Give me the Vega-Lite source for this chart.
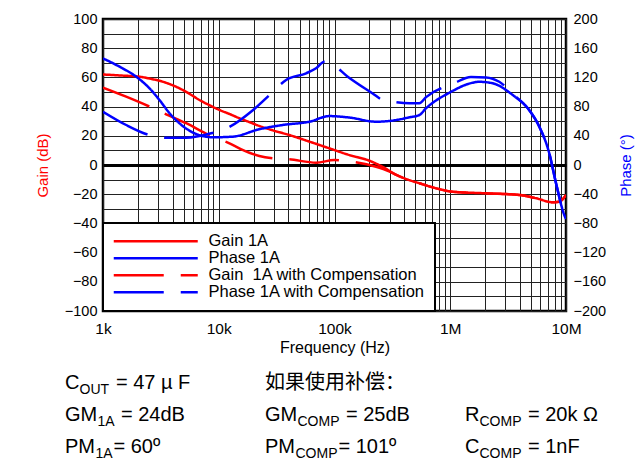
{
  "$schema": "https://vega.github.io/schema/vega-lite/v6.json",
  "width": 463,
  "height": 292,
  "autosize": {"type": "none"},
  "padding": {"left": 103, "top": 19, "right": 73, "bottom": 151},
  "background": "white",
  "config": {
    "font": "Liberation Sans, Arial, Noto Sans CJK SC",
    "view": {"stroke": "black", "strokeWidth": 2.5, "fill": "white"},
    "axis": {
      "labelFont": "Liberation Sans, Arial",
      "titleFont": "Liberation Sans, Arial",
      "labelFontSize": 14.5,
      "labelColor": "black",
      "titleFontWeight": "normal",
      "ticks": false,
      "domain": false,
      "gridColor": "#222",
      "gridOpacity": 1,
      "gridWidth": 1
    },
    "legend": {
      "orient": "bottom-left",
      "offset": 0,
      "padding": 10,
      "strokeColor": "black",
      "fillColor": "white",
      "labelFont": "Liberation Sans, Arial",
      "labelFontSize": 16.5,
      "labelColor": "black",
      "symbolType": "M-12,0H12",
      "symbolSize": 49,
      "symbolStrokeWidth": 2.5,
      "symbolOffset": 34.5,
      "labelOffset": 44.5,
      "rowPadding": 0,
      "labelLimit": 400
    }
  },
  "datasets": {
    "curves": [
      {"s": "Gain 1A", "f": 1000, "v": 62},
      {"s": "Gain 1A", "f": 1500, "v": 61.2},
      {"s": "Gain 1A", "f": 2065, "v": 60.5},
      {"s": "Gain 1A", "f": 2600, "v": 59},
      {"s": "Gain 1A", "f": 3076, "v": 57.7},
      {"s": "Gain 1A", "f": 3800, "v": 55.3},
      {"s": "Gain 1A", "f": 4580, "v": 52.5},
      {"s": "Gain 1A", "f": 5600, "v": 48.7},
      {"s": "Gain 1A", "f": 6820, "v": 44.5},
      {"s": "Gain 1A", "f": 8300, "v": 41},
      {"s": "Gain 1A", "f": 10140, "v": 37.7},
      {"s": "Gain 1A", "f": 12500, "v": 34.8},
      {"s": "Gain 1A", "f": 15100, "v": 32},
      {"s": "Gain 1A", "f": 18500, "v": 29.3},
      {"s": "Gain 1A", "f": 22500, "v": 26.7},
      {"s": "Gain 1A", "f": 30000, "v": 23.5},
      {"s": "Gain 1A", "f": 40800, "v": 20.5},
      {"s": "Gain 1A", "f": 60800, "v": 16},
      {"s": "Gain 1A", "f": 90400, "v": 11.4},
      {"s": "Gain 1A", "f": 134600, "v": 6.8},
      {"s": "Gain 1A", "f": 200500, "v": 2.9},
      {"s": "Gain 1A", "f": 259500, "v": -1.2},
      {"s": "Gain 1A", "f": 342600, "v": -6.8},
      {"s": "Gain 1A", "f": 430000, "v": -10},
      {"s": "Gain 1A", "f": 541000, "v": -12.5},
      {"s": "Gain 1A", "f": 758000, "v": -16},
      {"s": "Gain 1A", "f": 1040000, "v": -18.3},
      {"s": "Gain 1A", "f": 2050000, "v": -19.4},
      {"s": "Gain 1A", "f": 3950000, "v": -20.5},
      {"s": "Gain 1A", "f": 5540000, "v": -22.8},
      {"s": "Gain 1A", "f": 7620000, "v": -25.5},
      {"s": "Gain 1A", "f": 8750000, "v": -25.1},
      {"s": "Gain 1A", "f": 10000000, "v": -20.5},

      {"s": "Gain\u00a0 1A with Compensation", "f": 1000, "v": 53},
      {"s": "Gain\u00a0 1A with Compensation", "f": 1585, "v": 46.8},
      {"s": "Gain\u00a0 1A with Compensation", "f": 2524, "v": 40},
      {"s": "Gain\u00a0 1A with Compensation", "f": 3514, "v": 34.7},
      {"s": "Gain\u00a0 1A with Compensation", "f": 5228, "v": 28.6},
      {"s": "Gain\u00a0 1A with Compensation", "f": 8590, "v": 19.9},
      {"s": "Gain\u00a0 1A with Compensation", "f": 11970, "v": 15.3},
      {"s": "Gain\u00a0 1A with Compensation", "f": 18400, "v": 8.4},
      {"s": "Gain\u00a0 1A with Compensation", "f": 22400, "v": 6.2},
      {"s": "Gain\u00a0 1A with Compensation", "f": 29200, "v": 4.6},
      {"s": "Gain\u00a0 1A with Compensation", "f": 40700, "v": 3.9},
      {"s": "Gain\u00a0 1A with Compensation", "f": 69300, "v": 1.6},
      {"s": "Gain\u00a0 1A with Compensation", "f": 99800, "v": 3.4},
      {"s": "Gain\u00a0 1A with Compensation", "f": 139000, "v": 2.3},
      {"s": "Gain\u00a0 1A with Compensation", "f": 228400, "v": -1.2},
      {"s": "Gain\u00a0 1A with Compensation", "f": 300000, "v": -4.5},
      {"s": "Gain\u00a0 1A with Compensation", "f": 342600, "v": -6.8},
      {"s": "Gain\u00a0 1A with Compensation", "f": 430000, "v": -10},
      {"s": "Gain\u00a0 1A with Compensation", "f": 541000, "v": -12.5},
      {"s": "Gain\u00a0 1A with Compensation", "f": 758000, "v": -16},
      {"s": "Gain\u00a0 1A with Compensation", "f": 1040000, "v": -18.3},
      {"s": "Gain\u00a0 1A with Compensation", "f": 2050000, "v": -19.4},
      {"s": "Gain\u00a0 1A with Compensation", "f": 3950000, "v": -20.5},
      {"s": "Gain\u00a0 1A with Compensation", "f": 5540000, "v": -22.8},
      {"s": "Gain\u00a0 1A with Compensation", "f": 7620000, "v": -25.5},
      {"s": "Gain\u00a0 1A with Compensation", "f": 8750000, "v": -25.1},
      {"s": "Gain\u00a0 1A with Compensation", "f": 10000000, "v": -20.5},

      {"s": "Phase 1A", "f": 1000, "v": 146},
      {"s": "Phase 1A", "f": 1388, "v": 134.7},
      {"s": "Phase 1A", "f": 1935, "v": 121},
      {"s": "Phase 1A", "f": 2524, "v": 105},
      {"s": "Phase 1A", "f": 3076, "v": 89},
      {"s": "Phase 1A", "f": 3752, "v": 71},
      {"s": "Phase 1A", "f": 4887, "v": 53.4},
      {"s": "Phase 1A", "f": 6380, "v": 42.5},
      {"s": "Phase 1A", "f": 8876, "v": 38},
      {"s": "Phase 1A", "f": 13200, "v": 38.8},
      {"s": "Phase 1A", "f": 22400, "v": 49},
      {"s": "Phase 1A", "f": 35700, "v": 54.8},
      {"s": "Phase 1A", "f": 60700, "v": 59.3},
      {"s": "Phase 1A", "f": 90300, "v": 67},
      {"s": "Phase 1A", "f": 134400, "v": 65},
      {"s": "Phase 1A", "f": 228400, "v": 59.3},
      {"s": "Phase 1A", "f": 297600, "v": 60.3},
      {"s": "Phase 1A", "f": 443500, "v": 65.3},
      {"s": "Phase 1A", "f": 541000, "v": 68.5},
      {"s": "Phase 1A", "f": 618000, "v": 77.7},
      {"s": "Phase 1A", "f": 982000, "v": 99},
      {"s": "Phase 1A", "f": 1560000, "v": 112.7},
      {"s": "Phase 1A", "f": 1780000, "v": 114},
      {"s": "Phase 1A", "f": 2320000, "v": 112},
      {"s": "Phase 1A", "f": 3460000, "v": 96},
      {"s": "Phase 1A", "f": 4820000, "v": 75},
      {"s": "Phase 1A", "f": 5880000, "v": 52.5},
      {"s": "Phase 1A", "f": 7170000, "v": 16},
      {"s": "Phase 1A", "f": 8200000, "v": -25},
      {"s": "Phase 1A", "f": 9660000, "v": -68.5},
      {"s": "Phase 1A", "f": 10000000, "v": -74},

      {"s": "Phase 1A with Compensation", "f": 1000, "v": 73},
      {"s": "Phase 1A with Compensation", "f": 1586, "v": 54.8},
      {"s": "Phase 1A with Compensation", "f": 2524, "v": 41},
      {"s": "Phase 1A with Compensation", "f": 3514, "v": 37.4},
      {"s": "Phase 1A with Compensation", "f": 5228, "v": 37.4},
      {"s": "Phase 1A with Compensation", "f": 8590, "v": 43.4},
      {"s": "Phase 1A with Compensation", "f": 11970, "v": 51},
      {"s": "Phase 1A with Compensation", "f": 19700, "v": 75},
      {"s": "Phase 1A with Compensation", "f": 28400, "v": 98},
      {"s": "Phase 1A with Compensation", "f": 38200, "v": 116.5},
      {"s": "Phase 1A with Compensation", "f": 56900, "v": 125.6},
      {"s": "Phase 1A with Compensation", "f": 69300, "v": 132.5},
      {"s": "Phase 1A with Compensation", "f": 81800, "v": 141.5},
      {"s": "Phase 1A with Compensation", "f": 93500, "v": 139},
      {"s": "Phase 1A with Compensation", "f": 130100, "v": 121},
      {"s": "Phase 1A with Compensation", "f": 213600, "v": 98},
      {"s": "Phase 1A with Compensation", "f": 260700, "v": 89},
      {"s": "Phase 1A with Compensation", "f": 318200, "v": 86.7},
      {"s": "Phase 1A with Compensation", "f": 443500, "v": 84.5},
      {"s": "Phase 1A with Compensation", "f": 541000, "v": 84.5},
      {"s": "Phase 1A with Compensation", "f": 618000, "v": 93},
      {"s": "Phase 1A with Compensation", "f": 1080000, "v": 112},
      {"s": "Phase 1A with Compensation", "f": 1510000, "v": 120.5},
      {"s": "Phase 1A with Compensation", "f": 2040000, "v": 120},
      {"s": "Phase 1A with Compensation", "f": 2650000, "v": 114},
      {"s": "Phase 1A with Compensation", "f": 3600000, "v": 95},
      {"s": "Phase 1A with Compensation", "f": 4820000, "v": 75},
      {"s": "Phase 1A with Compensation", "f": 5880000, "v": 52.5},
      {"s": "Phase 1A with Compensation", "f": 7170000, "v": 16},
      {"s": "Phase 1A with Compensation", "f": 8200000, "v": -25},
      {"s": "Phase 1A with Compensation", "f": 9660000, "v": -68.5},
      {"s": "Phase 1A with Compensation", "f": 10000000, "v": -74}
    ],
    "notes": [
      {"line": 1, "col": 1, "base": "C", "sub": "OUT", "rest": "= 47 µ F"},
      {"line": 1, "col": 2, "base": "如果使用补偿：", "sub": "", "rest": ""},
      {"line": 2, "col": 1, "base": "GM", "sub": "1A", "rest": "= 24dB"},
      {"line": 2, "col": 2, "base": "GM", "sub": "COMP", "rest": "= 25dB"},
      {"line": 2, "col": 3, "base": "R", "sub": "COMP", "rest": "= 20k Ω"},
      {"line": 3, "col": 1, "base": "PM", "sub": "1A", "rest": "= 60º"},
      {"line": 3, "col": 2, "base": "PM", "sub": "COMP", "rest": "= 101º"},
      {"line": 3, "col": 3, "base": "C", "sub": "COMP", "rest": "= 1nF"}
    ]
  },
  "layer": [
    {
      "data": {"name": "curves"},
      "layer": [
        {
          "transform": [{"filter": "indexof(datum.s, 'Gain') == 0"}],
          "mark": {"type": "line", "strokeWidth": 2.5, "interpolate": "monotone", "clip": true},
          "encoding": {
            "x": {
              "field": "f", "type": "quantitative",
              "scale": {"type": "log", "domain": [1000, 10000000]},
              "axis": {
                "values": [1000,2000,3000,4000,5000,6000,7000,8000,9000,10000,20000,30000,40000,50000,60000,70000,80000,90000,100000,200000,300000,400000,500000,600000,700000,800000,900000,1000000,2000000,3000000,4000000,5000000,6000000,7000000,8000000,9000000,10000000],
                "labelExpr": "datum.value == 1000 ? '1k' : datum.value == 10000 ? '10k' : datum.value == 100000 ? '100k' : datum.value == 1000000 ? '1M' : datum.value == 10000000 ? '10M' : ''",
                "labelOverlap": false, "labelFlush": false, "labelBound": false,
                "grid": true,
                "title": "Frequency (Hz)", "titleFontSize": 16, "labelFontSize": 15.5,
                "labelPadding": 10, "titlePadding": 3
              }
            },
            "y": {
              "field": "v", "type": "quantitative",
              "scale": {"domain": [-100, 100], "nice": false},
              "axis": {
                "orient": "left",
                "values": [-100,-90,-80,-70,-60,-50,-40,-30,-20,-10,0,10,20,30,40,50,60,70,80,90,100],
                "labelExpr": "datum.value % 20 == 0 ? datum.label : ''",
                "labelOverlap": false, "labelFlush": false,
                "grid": true,
                "gridWidth": {"condition": {"test": "datum.value == 0", "value": 3}, "value": 1},
                "gridColor": {"condition": {"test": "datum.value == 0", "value": "#000"}, "value": "#222"},
                "title": "Gain (dB)", "titleColor": "#ff0000", "titleFontSize": 15,
                "labelPadding": 6, "titlePadding": 14
              }
            },
            "color": {
              "field": "s", "type": "nominal",
              "scale": {"domain": ["Gain 1A", "Phase 1A", "Gain\u00a0 1A with Compensation", "Phase 1A with Compensation"], "range": ["#ff0000", "#0000ff", "#ff0000", "#0000ff"]},
              "legend": {"title": null, "encode": {"legend": {"update": {"strokeWidth": {"value": 2}}}}}
            },
            "strokeDash": {
              "field": "s", "type": "nominal",
              "scale": {"domain": ["Gain 1A", "Phase 1A", "Gain\u00a0 1A with Compensation", "Phase 1A with Compensation"], "range": [[1, 0], [1, 0], [50, 17], [50, 17]]},
              "legend": {"title": null, "encode": {"legend": {"update": {"strokeWidth": {"value": 2}}}}}
            }
          }
        },
        {
          "transform": [{"filter": "indexof(datum.s, 'Phase') == 0"}],
          "mark": {"type": "line", "strokeWidth": 2.5, "interpolate": "monotone", "clip": true},
          "encoding": {
            "x": {
              "field": "f", "type": "quantitative",
              "scale": {"type": "log", "domain": [1000, 10000000]},
              "axis": {
                "values": [1000,2000,3000,4000,5000,6000,7000,8000,9000,10000,20000,30000,40000,50000,60000,70000,80000,90000,100000,200000,300000,400000,500000,600000,700000,800000,900000,1000000,2000000,3000000,4000000,5000000,6000000,7000000,8000000,9000000,10000000],
                "labelExpr": "datum.value == 1000 ? '1k' : datum.value == 10000 ? '10k' : datum.value == 100000 ? '100k' : datum.value == 1000000 ? '1M' : datum.value == 10000000 ? '10M' : ''",
                "labelOverlap": false, "labelFlush": false, "labelBound": false,
                "grid": true,
                "title": "Frequency (Hz)", "titleFontSize": 16, "labelFontSize": 15.5,
                "labelPadding": 10, "titlePadding": 3
              }
            },
            "y": {
              "field": "v", "type": "quantitative",
              "scale": {"domain": [-200, 200], "nice": false},
              "axis": {
                "orient": "right",
                "values": [-200,-160,-120,-80,-40,0,40,80,120,160,200],
                "labelOverlap": false, "labelFlush": false,
                "grid": false,
                "title": "Phase (°)", "titleColor": "#0000ff", "titleFontSize": 15, "titleAngle": 270,
                "labelPadding": 7, "titlePadding": 28
              }
            },
            "color": {
              "field": "s", "type": "nominal",
              "scale": {"domain": ["Gain 1A", "Phase 1A", "Gain\u00a0 1A with Compensation", "Phase 1A with Compensation"], "range": ["#ff0000", "#0000ff", "#ff0000", "#0000ff"]},
              "legend": {"title": null, "encode": {"legend": {"update": {"strokeWidth": {"value": 2}}}}}
            },
            "strokeDash": {
              "field": "s", "type": "nominal",
              "scale": {"domain": ["Gain 1A", "Phase 1A", "Gain\u00a0 1A with Compensation", "Phase 1A with Compensation"], "range": [[1, 0], [1, 0], [50, 17], [50, 17]]},
              "legend": {"title": null, "encode": {"legend": {"update": {"strokeWidth": {"value": 2}}}}}
            }
          }
        }
      ],
      "resolve": {"scale": {"y": "independent"}}
    },
    {
      "data": {"name": "notes"},
      "encoding": {
        "x": {"field": "col", "type": "quantitative", "scale": {"domain": [1, 3], "range": [-38, 362], "nice": false, "zero": false}, "axis": null},
        "y": {"field": "line", "type": "quantitative", "scale": {"domain": [1, 3], "range": [370, 434], "nice": false, "zero": false}, "axis": null}
      },
      "layer": [
        {
          "mark": {"type": "text", "align": "left", "baseline": "alphabetic", "fontSize": 20, "color": "black"},
          "encoding": {"text": {"field": "base"}}
        },
        {
          "transform": [{"filter": "datum.base == 'C' || datum.base == 'R'"}],
          "mark": {"type": "text", "align": "left", "baseline": "alphabetic", "fontSize": 14, "dx": 14.5, "dy": 5, "color": "black"},
          "encoding": {"text": {"field": "sub"}}
        },
        {
          "transform": [{"filter": "datum.base == 'GM'"}],
          "mark": {"type": "text", "align": "left", "baseline": "alphabetic", "fontSize": 14, "dx": 32.5, "dy": 5, "color": "black"},
          "encoding": {"text": {"field": "sub"}}
        },
        {
          "transform": [{"filter": "datum.base == 'PM'"}],
          "mark": {"type": "text", "align": "left", "baseline": "alphabetic", "fontSize": 14, "dx": 30.5, "dy": 5, "color": "black"},
          "encoding": {"text": {"field": "sub"}}
        },
        {
          "transform": [{"filter": "datum.base == 'C' && datum.sub == 'OUT'"}],
          "mark": {"type": "text", "align": "left", "baseline": "alphabetic", "fontSize": 20, "dx": 51, "color": "black"},
          "encoding": {"text": {"field": "rest"}}
        },
        {
          "transform": [{"filter": "datum.base == 'GM' && datum.sub == '1A'"}],
          "mark": {"type": "text", "align": "left", "baseline": "alphabetic", "fontSize": 20, "dx": 56, "color": "black"},
          "encoding": {"text": {"field": "rest"}}
        },
        {
          "transform": [{"filter": "datum.base == 'PM' && datum.sub == '1A'"}],
          "mark": {"type": "text", "align": "left", "baseline": "alphabetic", "fontSize": 20, "dx": 48.5, "color": "black"},
          "encoding": {"text": {"field": "rest"}}
        },
        {
          "transform": [{"filter": "datum.base == 'GM' && datum.sub == 'COMP'"}],
          "mark": {"type": "text", "align": "left", "baseline": "alphabetic", "fontSize": 20, "dx": 81, "color": "black"},
          "encoding": {"text": {"field": "rest"}}
        },
        {
          "transform": [{"filter": "datum.base == 'PM' && datum.sub == 'COMP'"}],
          "mark": {"type": "text", "align": "left", "baseline": "alphabetic", "fontSize": 20, "dx": 73.5, "color": "black"},
          "encoding": {"text": {"field": "rest"}}
        },
        {
          "transform": [{"filter": "(datum.base == 'R' || datum.base == 'C') && datum.sub == 'COMP'"}],
          "mark": {"type": "text", "align": "left", "baseline": "alphabetic", "fontSize": 20, "dx": 63, "color": "black"},
          "encoding": {"text": {"field": "rest"}}
        }
      ]
    }
  ],
  "resolve": {"scale": {"x": "independent", "y": "independent"}}
}
